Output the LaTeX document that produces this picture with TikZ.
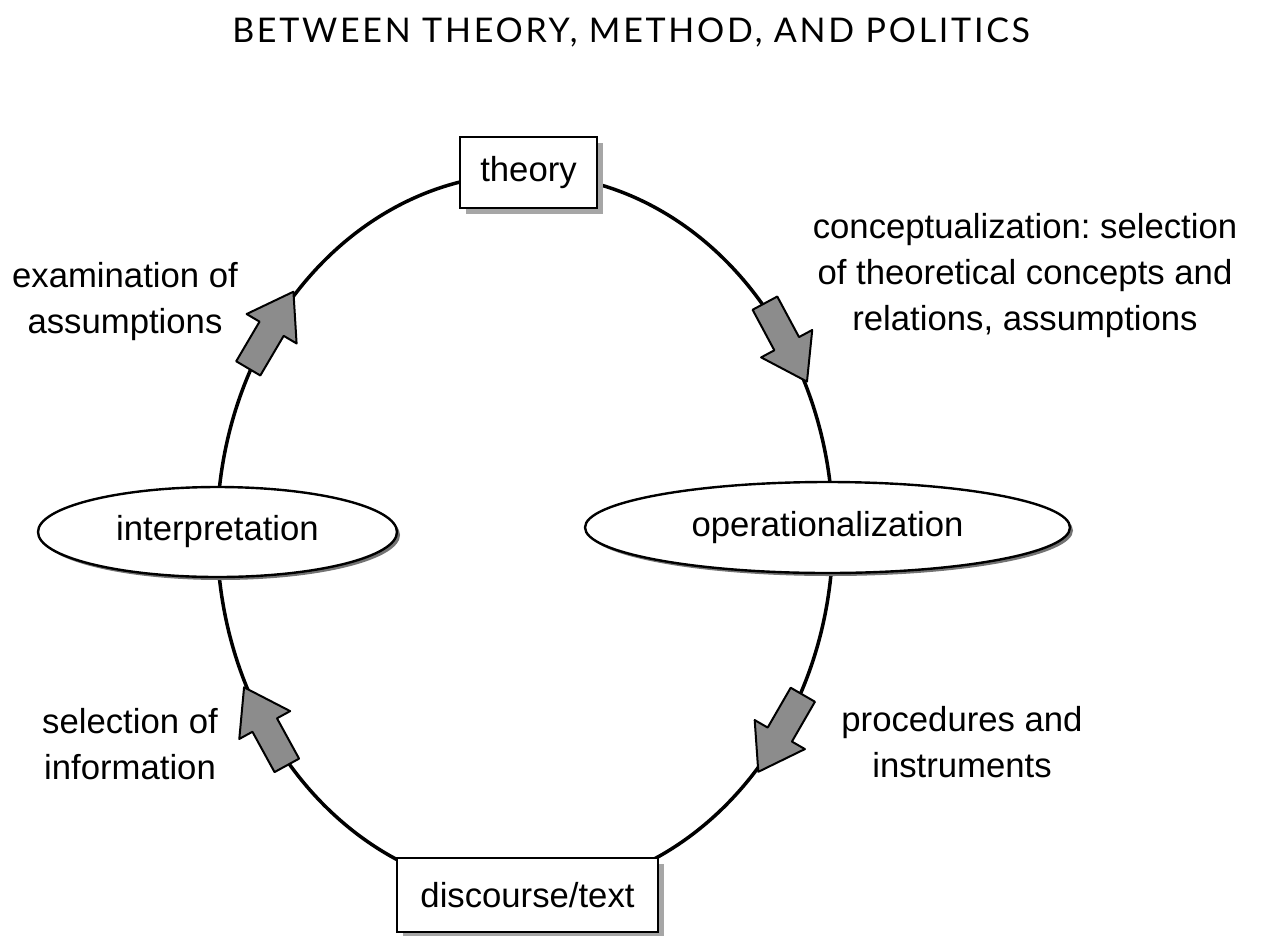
\documentclass[tikz,border=0pt]{standalone}
\usepackage{fontspec}
\setmainfont{Liberation Sans}
\newfontfamily\titlefont[LetterSpace=8]{Lato}
\usetikzlibrary{shapes.geometric,shadows}
\frenchspacing

\definecolor{arrowgray}{RGB}{140,140,140}

\tikzset{
  bodyfont/.style={font=\fontsize{34.7}{46}\selectfont},
  labeltext/.style={bodyfont, align=center, inner sep=0pt},
  stagebox/.style={draw, line width=2.6pt, fill=white, inner sep=0pt, bodyfont,
    drop shadow={shadow xshift=6pt, shadow yshift=-6pt, fill=black!35, opacity=1}},
  stageoval/.style={ellipse, draw, line width=2.4pt, fill=white, inner sep=0pt, bodyfont,
    drop shadow={shadow xshift=3pt, shadow yshift=-3pt, fill=black!55, opacity=1}},
  cycleline/.style={line width=3.5pt},
  flowarrow/.style={draw, line width=2pt, fill=arrowgray, line join=round},
  blockarrow/.pic={
    \path[flowarrow] (-45,-14) -- (1,-14) -- (1,-29) -- (44,0)
      -- (1,29) -- (1,14) -- (-45,14) -- cycle;
  },
}

\begin{document}
\begin{tikzpicture}[x=1pt, y=-1pt]
  \useasboundingbox (0,0) rectangle (1261,935);
  \fill[white] (0,0) rectangle (1261,935);

  % heading
  \node[font={\titlefont\fontsize{34}{40}\selectfont}, anchor=base, inner sep=0pt]
    (title) at (631,42) {BETWEEN THEORY, METHOD, AND POLITICS};

  % the research cycle
  \coordinate (hub) at (525,533);
  \draw[cycleline] (hub) ellipse [x radius=308pt, y radius=359pt];

  % direction of travel along the cycle
  \pic[rotate=59.5]  (tl) at (271.1,329.6) {blockarrow};
  \pic[rotate=-61.8] (tr) at (786.2,342.8) {blockarrow};
  \pic[rotate=240]   (br) at (780.3,733.7) {blockarrow};
  \pic[rotate=118.7] (bl) at (265.2,725.9) {blockarrow};

  % stations of the cycle
  \node[stagebox, minimum width=137pt, minimum height=71pt] (theory) at (528.5,172.5) {theory};
  \node[stagebox, minimum width=261pt, minimum height=74pt] (discourse) at (527.5,895) {discourse/text};
  \node[stageoval, minimum width=359pt, minimum height=90pt] (interp) at (217.5,532) {interpretation};
  \node[stageoval, minimum width=485pt, minimum height=91pt] (oper) at (827.5,527.5) {operationalization};

  % step descriptions (anchored at the baseline of the last line)
  \node[labeltext, anchor=base] (concept) at (1025,330)
    {conceptualization: selection\\of theoretical concepts and\\relations, assumptions};
  \node[labeltext, anchor=base] (exam) at (125,333) {examination of\\assumptions};
  \node[labeltext, anchor=base] (select) at (130,779) {selection of\\information};
  \node[labeltext, anchor=base] (proc) at (962,777) {procedures and\\instruments};
\end{tikzpicture}
\end{document}
